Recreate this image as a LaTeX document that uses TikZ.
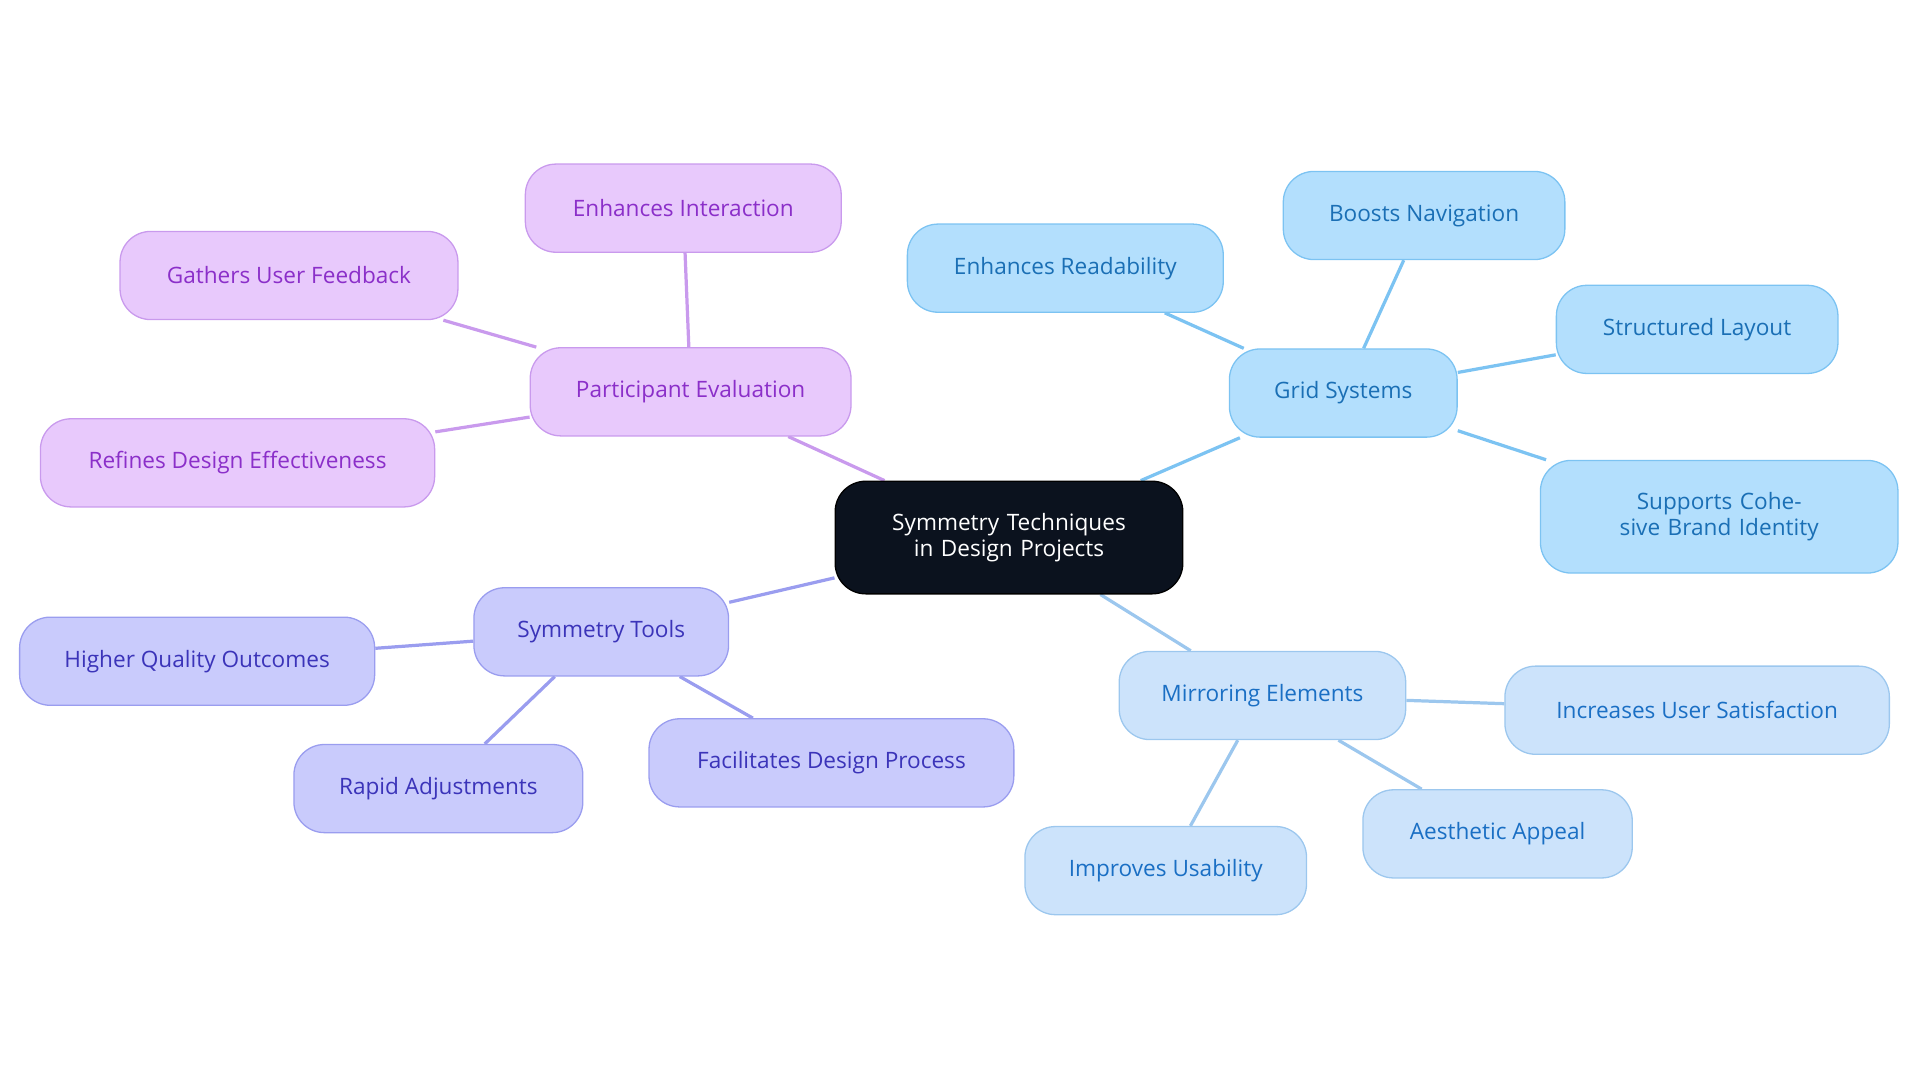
\documentclass[tikz,border=0pt]{standalone}
\usepackage{fontspec}
\setmainfont{Open Sans}
\usetikzlibrary{backgrounds}
\definecolor{hubfill}{HTML}{0B121E}
\definecolor{gridfill}{HTML}{B3DFFD}\definecolor{griddraw}{HTML}{7CC3F2}\definecolor{gridtext}{HTML}{1A6FB5}
\definecolor{mirfill}{HTML}{CCE3FB}\definecolor{mirdraw}{HTML}{9CC7EE}\definecolor{mirtext}{HTML}{1A6FC4}
\definecolor{partfill}{HTML}{E8C9FC}\definecolor{partdraw}{HTML}{C99AED}\definecolor{parttext}{HTML}{8B2FC9}
\definecolor{toolfill}{HTML}{C9CBFC}\definecolor{tooldraw}{HTML}{9A9DEF}\definecolor{tooltext}{HTML}{3B34B9}
\tikzset{
  box/.style={rounded corners=0.5cm,minimum height=1.44cm,align=center,font=\fontsize{10.5}{12}\selectfont,line width=0.6pt},
  grid/.style={box,fill=gridfill,draw=griddraw,text=gridtext},
  mir/.style={box,fill=mirfill,draw=mirdraw,text=mirtext},
  part/.style={box,fill=partfill,draw=partdraw,text=parttext},
  tool/.style={box,fill=toolfill,draw=tooldraw,text=tooltext},
  link/.style={line width=1.5pt}
}
\begin{document}
\begin{tikzpicture}[x=0.02cm,y=-0.02cm]
\useasboundingbox (0,0) rectangle (1568,884);
\node[box,fill=hubfill,draw=black,text=white,minimum width=5.68cm,minimum height=1.84cm,text width=4.6cm] (hub) at (824,439) {Symmetry Techniques in Design Projects};
% grid systems
\node[grid,minimum width=3.72cm] (grid) at (1097,321) {Grid Systems};
\node[grid,minimum width=5.16cm] (read) at (870,219) {Enhances Readability};
\node[grid,minimum width=4.6cm] (nav) at (1163,176) {Boosts Navigation};
\node[grid,minimum width=4.6cm] (layout) at (1386,269) {Structured Layout};
\node[grid,minimum width=5.84cm,minimum height=1.84cm,text width=5cm] (brand) at (1404,422) {Supports Cohesive Brand Identity};
% mirroring
\node[mir,minimum width=4.68cm] (mirror) at (1031,568) {Mirroring Elements};
\node[mir,minimum width=6.28cm] (satis) at (1386,580) {Increases User Satisfaction};
\node[mir,minimum width=4.4cm] (aesth) at (1223,681) {Aesthetic Appeal};
\node[mir,minimum width=4.6cm] (usab) at (952,711) {Improves Usability};
% participant evaluation
\node[part,minimum width=5.24cm] (peval) at (564,320) {Participant Evaluation};
\node[part,minimum width=5.16cm] (inter) at (558,170) {Enhances Interaction};
\node[part,minimum width=5.52cm] (feed) at (236,225) {Gathers User Feedback};
\node[part,minimum width=6.44cm] (refine) at (194,378) {Refines Design Effectiveness};
% symmetry tools
\node[tool,minimum width=4.16cm] (tools) at (491,516) {Symmetry Tools};
\node[tool,minimum width=5.8cm] (quality) at (161,540) {Higher Quality Outcomes};
\node[tool,minimum width=4.72cm] (rapid) at (358,644) {Rapid Adjustments};
\node[tool,minimum width=5.96cm] (facil) at (679,623) {Facilitates Design Process};
\begin{scope}[on background layer]
\draw[link,griddraw] (hub) -- (grid) (grid) -- (read) (grid) -- (nav) (grid) -- (layout) (grid) -- (brand);
\draw[link,mirdraw] (hub) -- (mirror) (mirror) -- (satis) (mirror) -- (aesth) (mirror) -- (usab);
\draw[link,partdraw] (hub) -- (peval) (peval) -- (inter) (peval) -- (feed) (peval) -- (refine);
\draw[link,tooldraw] (hub) -- (tools) (tools) -- (quality) (tools) -- (rapid) (tools) -- (facil);
\end{scope}
\end{tikzpicture}
\end{document}
